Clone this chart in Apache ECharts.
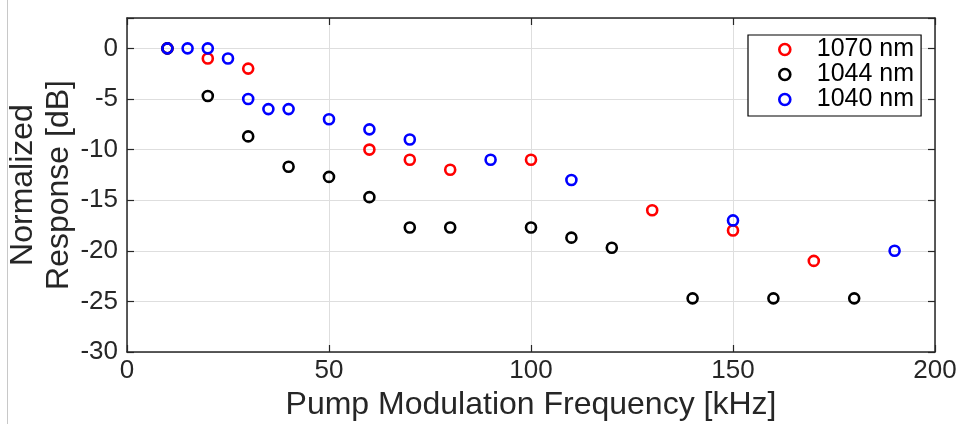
<!DOCTYPE html>
<html>
<head>
<meta charset="utf-8">
<script src="https://cdn.jsdelivr.net/npm/echarts@6/dist/echarts.min.js"></script>
<style>
html,body{margin:0;padding:0;background:#fff;}
#chart{width:963px;height:424px;}
</style>
</head>
<body>
<div id="chart"></div>
<script>
// ---- data ----
const seriesNames = ['1070 nm', '1044 nm', '1040 nm'];
const seriesColors = ['#ff0000', '#000000', '#0000ff'];

const freq1070 = [10, 20, 30, 60, 70, 80, 100, 130, 150, 170];
const resp1070 = [0, -1, -2, -10, -11, -12, -11, -16, -18, -21];

const freq1044 = [10, 20, 30, 40, 50, 60, 70, 80, 100, 110, 120, 140, 160, 180];
const resp1044 = [0, -4.7, -8.7, -11.7, -12.7, -14.7, -17.7, -17.7, -17.7, -18.7, -19.7, -24.7, -24.7, -24.7];

const freq1040 = [10, 15, 20, 25, 30, 35, 40, 50, 60, 70, 90, 110, 150, 190];
const resp1040 = [0, 0, 0, -1, -5, -6, -6, -7, -8, -9, -11, -13, -17, -20];

const xTicks = [0, 50, 100, 150, 200];
const yTicks = [-30, -25, -20, -15, -10, -5, 0];

const xTitle = 'Pump Modulation Frequency [kHz]';
const yTitle = 'Normalized\nResponse [dB]';
// ---------------

const pair = (xs, ys) => xs.map((x, i) => [x, ys[i]]);
const allData = [pair(freq1070, resp1070), pair(freq1044, resp1044), pair(freq1040, resp1040)];

const FONT = 'Liberation Sans, Arial, sans-serif';
const AX = '#262626';

const chart = echarts.init(document.getElementById('chart'), null, {renderer: 'canvas'});

const baseX = {
  type: 'value', min: xTicks[0], max: xTicks[xTicks.length - 1], interval: 50,
  axisLine: {show: true, onZero: false, lineStyle: {color: AX, width: 1.5}},
  axisTick: {show: true, inside: true, length: 7, lineStyle: {color: AX, width: 1.2}},
};
const baseY = {
  type: 'value', min: yTicks[0], max: 3, interval: 5,
  axisLine: {show: true, onZero: false, lineStyle: {color: AX, width: 1.5}},
  axisTick: {show: true, inside: true, length: 7, lineStyle: {color: AX, width: 1.2}},
};

chart.setOption({
  animation: false,
  backgroundColor: '#fff',
  grid: {left: 127, right: 28, top: 18, bottom: 72, containLabel: false, outerBoundsMode: 'none'},
  xAxis: [
    Object.assign({}, baseX, {
      position: 'bottom',
      name: xTitle, nameLocation: 'middle', nameGap: 37, nameMoveOverlap: false,
      nameTextStyle: {fontFamily: FONT, fontSize: 32, color: AX},
      axisLabel: {show: true, margin: 6, fontFamily: FONT, fontSize: 26, color: AX,
        formatter: v => (xTicks.indexOf(v) >= 0 ? String(v) : '')},
      splitLine: {show: true, lineStyle: {color: '#dedede', width: 1}},
    }),
    Object.assign({}, baseX, {
      position: 'top',
      axisLabel: {show: false}, splitLine: {show: false},
    }),
  ],
  yAxis: [
    Object.assign({}, baseY, {
      position: 'left',
      name: yTitle, nameLocation: 'middle', nameGap: 50, nameRotate: 90, nameMoveOverlap: false,
      nameTextStyle: {fontFamily: FONT, fontSize: 32, color: AX, lineHeight: 36, align: 'center', verticalAlign: 'bottom'},
      axisLabel: {show: true, margin: 9, fontFamily: FONT, fontSize: 26, color: AX,
        formatter: v => (yTicks.indexOf(v) >= 0 ? String(v) : '')},
      splitLine: {show: true, lineStyle: {color: '#dedede', width: 1}},
    }),
    Object.assign({}, baseY, {
      position: 'right',
      axisLabel: {show: false}, splitLine: {show: false},
    }),
  ],
  legend: {
    left: 748, top: 35, orient: 'vertical',
    data: seriesNames.map((n, i) => ({name: n, icon: 'circle',
      itemStyle: {color: 'rgba(255,255,255,0)', borderColor: seriesColors[i], borderWidth: 2.6}})),
    itemWidth: 54, itemHeight: 11, itemGap: 0,
    padding: [2, 7, 4, 30],
    borderColor: '#000', borderWidth: 1.2, backgroundColor: '#fff',
    textStyle: {fontFamily: FONT, fontSize: 25, color: '#000', lineHeight: 25},
  },
  graphic: [{
    type: 'line', shape: {x1: 7.5, y1: 0, x2: 7.5, y2: 424},
    style: {stroke: '#c8c8c8', lineWidth: 1}, silent: true,
  }],
  series: seriesNames.map((name, i) => ({
    name, type: 'scatter', xAxisIndex: 0, yAxisIndex: 0,
    data: allData[i],
    symbol: 'circle', symbolSize: 10,
    itemStyle: {color: 'rgba(255,255,255,0)', borderColor: seriesColors[i], borderWidth: 2.6, opacity: 1},
  })),
});
</script>
</body>
</html>
